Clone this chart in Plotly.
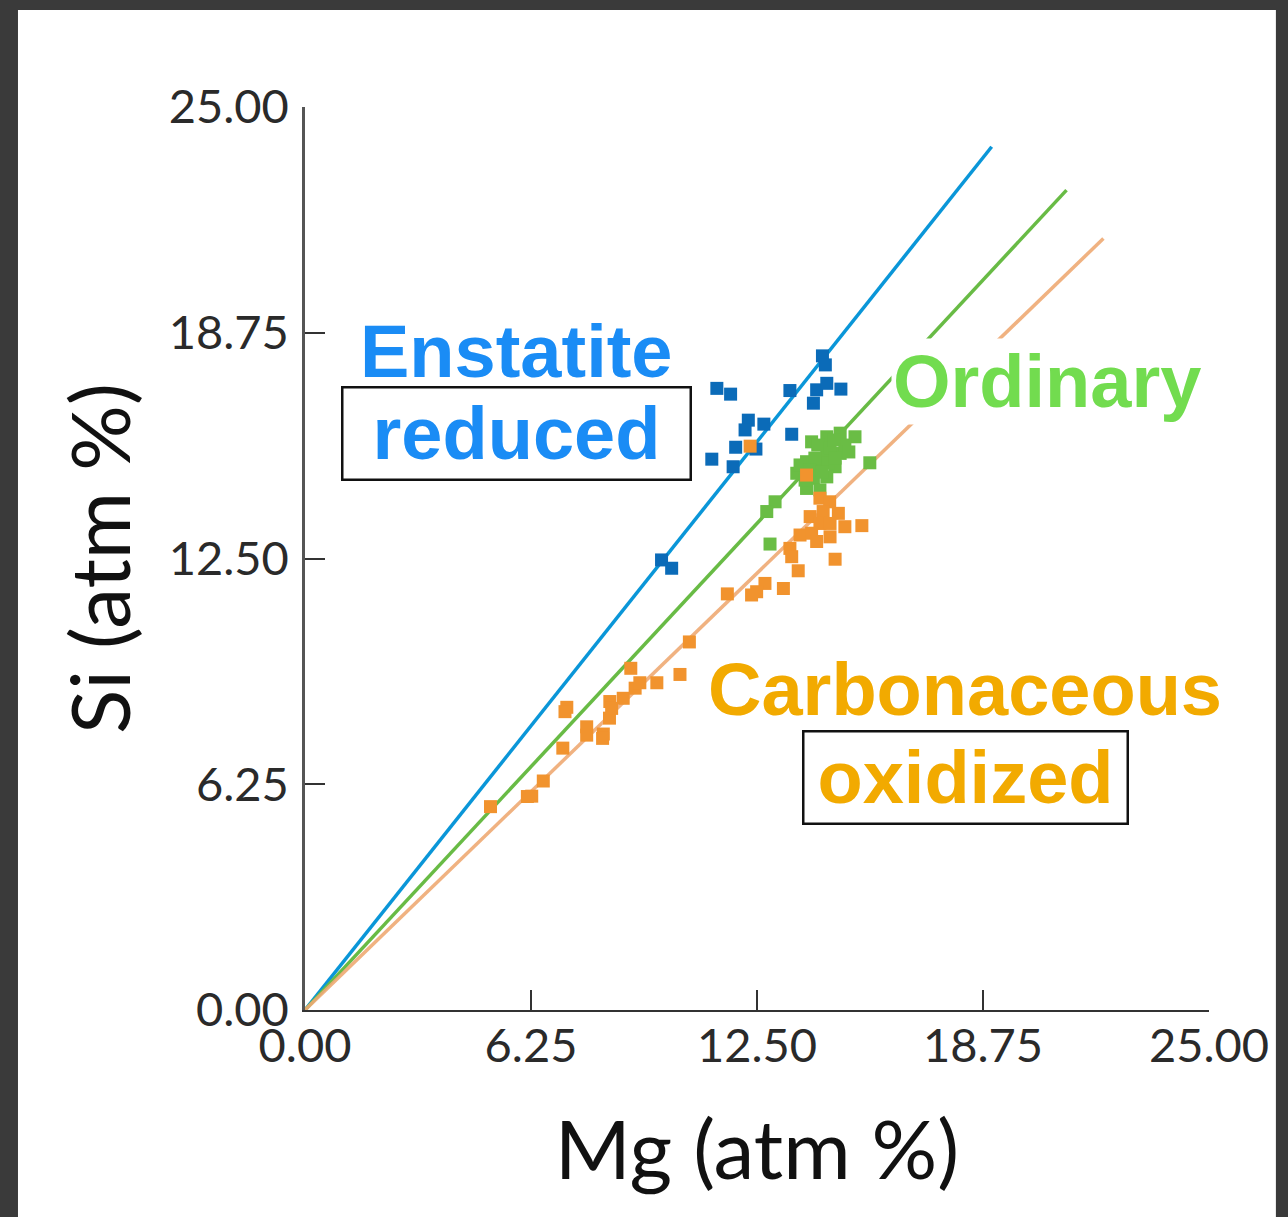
import plotly.graph_objects as go

# ---- data ----
enstatite_mg = [14.31, 14.39, 11.39, 11.77, 13.41, 14.15, 14.43, 14.82, 14.06, 12.26, 12.69,
                12.17, 13.46, 11.91, 12.47, 11.25, 11.84, 9.86, 10.14]
enstatite_si = [18.11, 17.86, 17.21, 17.05, 17.15, 17.17, 17.35, 17.19, 16.80, 16.33, 16.22,
                16.06, 15.94, 15.58, 15.53, 15.25, 15.04, 12.46, 12.23]

ordinary_mg = [15.21, 14.80, 14.43, 14.01, 14.80, 14.43, 13.87, 14.24, 14.66, 13.60, 14.06,
               14.43, 13.87, 13.00, 12.77, 12.86, 15.62, 14.18, 14.52, 14.93, 14.10, 14.46,
               13.69, 13.97, 14.66, 14.24, 13.83, 14.63, 15.04, 14.30]
ordinary_si = [15.87, 15.97, 15.87, 15.73, 15.41, 15.32, 15.18, 15.04, 15.04, 14.86, 14.72,
               14.76, 14.44, 14.07, 13.80, 12.90, 15.15, 15.64, 15.56, 15.64, 15.28, 15.14,
               15.09, 14.95, 15.28, 14.40, 14.67, 15.78, 15.45, 14.89]

carbon_mg = [14.24, 14.51, 13.97, 14.33, 14.75, 14.24, 14.52, 14.93, 15.40, 13.69, 14.01,
             14.15, 14.52, 13.41, 13.46, 14.66, 13.64, 12.72, 12.49, 13.23, 12.35, 11.68,
             10.63, 5.13, 6.15, 6.27, 6.59, 7.13, 7.24, 7.19, 7.79, 7.79, 8.25, 8.23, 8.42,
             8.43, 8.48, 8.80, 9.13, 9.26, 9.01, 9.73, 10.37, 12.31, 13.87]
carbon_si = [14.17, 14.07, 13.66, 13.80, 13.75, 13.47, 13.47, 13.38, 13.41, 13.15, 13.20,
             12.97, 13.10, 12.78, 12.55, 12.48, 12.16, 11.81, 11.58, 11.67, 11.49, 11.52,
             10.19, 5.63, 5.91, 5.92, 6.34, 7.25, 8.38, 8.26, 7.84, 7.61, 7.64, 7.52, 8.08,
             8.54, 8.35, 8.63, 8.91, 9.06, 9.46, 9.06, 9.29, 15.61, 14.81]

enstatite_line_mg = [0, 18.99]
enstatite_line_si = [0, 23.90]
ordinary_line_mg = [0, 21.06]
ordinary_line_si = [0, 22.70]
carbon_line_mg = [0, 22.08]
carbon_line_si = [0, 21.36]

tick_vals = [0, 6.25, 12.5, 18.75, 25]
tick_text = ["0.00", "6.25", "12.50", "18.75", "25.00"]

# ---- figure ----
fig = go.Figure()

fig.add_trace(go.Scatter(x=enstatite_line_mg, y=enstatite_line_si, mode="lines",
                         line=dict(color="#0a96d8", width=3.5), hoverinfo="skip"))
fig.add_trace(go.Scatter(x=ordinary_line_mg, y=ordinary_line_si, mode="lines",
                         line=dict(color="#68bb45", width=3.5), hoverinfo="skip"))
fig.add_trace(go.Scatter(x=carbon_line_mg, y=carbon_line_si, mode="lines",
                         line=dict(color="rgba(238,170,115,0.9)", width=3.5), hoverinfo="skip"))

marker_common = dict(symbol="square", size=13, line=dict(width=0))
fig.add_trace(go.Scatter(x=enstatite_mg, y=enstatite_si, mode="markers",
                         marker=dict(color="#0b6bb8", **marker_common)))
fig.add_trace(go.Scatter(x=ordinary_mg, y=ordinary_si, mode="markers",
                         marker=dict(color="#6abd45", **marker_common)))
fig.add_trace(go.Scatter(x=carbon_mg, y=carbon_si, mode="markers",
                         marker=dict(color="#f1932e", **marker_common)))

label_font = dict(family="Liberation Sans, Arial, sans-serif", size=74, weight="bold")
ann = [
    dict(text="Enstatite", x=5.86, y=18.22, font=dict(color="#1a8cf5", **label_font)),
    dict(text="reduced", x=5.86, y=15.96, font=dict(color="#1a8cf5", **label_font),
         bordercolor="#111", borderwidth=2.5, borderpad=2, width=342, height=86),
    dict(text="Ordinary", x=20.52, y=17.39, font=dict(color="#72dc4f", **label_font)),
    dict(text="Carbonaceous", x=18.25, y=8.86, font=dict(color="#f2aa00", **label_font)),
    dict(text="oxidized", x=18.27, y=6.45, font=dict(color="#f2aa00", **label_font),
         bordercolor="#111", borderwidth=2.5, borderpad=2, width=318, height=86),
]
for a in ann:
    fig.add_annotation(xref="x", yref="y", showarrow=False, xanchor="center",
                       yanchor="middle", bgcolor="rgba(255,255,255,1)", **a)

# white sheet over dark textured frame
fig.add_shape(type="rect", xref="paper", yref="paper", x0=-0.3175, x1=1.074,
              y0=-0.25, y1=1.1074, fillcolor="white", line=dict(width=0), layer="below")

tick_font = dict(family="Lato, Liberation Sans, sans-serif", size=47, color="#2a2a2a")
title_font = dict(family="Lato, Liberation Sans, sans-serif", size=82, color="#111")

fig.update_xaxes(range=[0, 25], tickvals=tick_vals, ticktext=tick_text, ticks="inside",
                 ticklen=20, tickwidth=1.5, tickcolor="#333", showline=True,
                 linecolor="#333", linewidth=2, showgrid=False, zeroline=False,
                 ticklabelstandoff=-6,
                 tickfont=tick_font, title=dict(text="Mg (atm %)", font=title_font, standoff=50))
fig.update_yaxes(range=[0, 25], tickvals=tick_vals, ticktext=tick_text, ticks="inside",
                 ticklen=20, tickwidth=1.5, tickcolor="#333", showline=True,
                 linecolor="#555", linewidth=2.5, showgrid=False, zeroline=False,
                 ticklabelstandoff=4,
                 tickfont=tick_font, title=dict(text="Si (atm %)", font=title_font, standoff=12))

fig.update_layout(width=1288, height=1217, showlegend=False,
                  margin=dict(l=305, r=79, t=107, b=207, autoexpand=False),
                  paper_bgcolor="#3a3a3a", plot_bgcolor="white")

fig.write_html("out.html")
